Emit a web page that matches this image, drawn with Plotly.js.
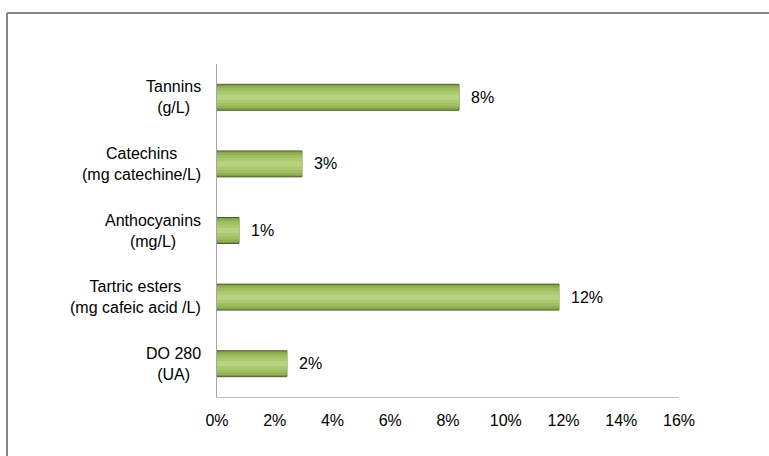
<!DOCTYPE html>
<html>
<head>
<meta charset="utf-8">
<script src="https://cdn.plot.ly/plotly-3.0.1.min.js"></script>
<style>
  html, body { margin: 0; padding: 0; background: #ffffff; }
  #chart { width: 769px; height: 456px; }
</style>
</head>
<body>
<div id="chart"></div>
<script>
// ---- data ----
const categories = [
  "Tannins<br>(g/L)",
  "Catechins<br>(mg catechine/L)",
  "Anthocyanins<br>(mg/L)",
  "Tartric esters<br>(mg cafeic acid /L)",
  "DO 280<br>(UA)"
];
const values = [8.38, 2.94, 0.76, 11.84, 2.42];   // percent
const xTicks = [0, 2, 4, 6, 8, 10, 12, 14, 16];
const xTickLabels = ["0%", "2%", "4%", "6%", "8%", "10%", "12%", "14%", "16%"];

const FONT = "Liberation Sans, Arial, sans-serif";

// bars: layered overlay traces for a bevel/gradient look
function barLayer(width, color, line) {
  return {
    type: "bar", orientation: "h", y: categories, x: values,
    width: width, hoverinfo: "skip",
    marker: { color: color, line: line || { width: 0 } }
  };
}
const traces = [
  barLayer(0.39, "#7F9B47", { color: "#4F6228", width: 1 }),
  barLayer(0.34, "#92B156"),
  barLayer(0.27, "#A0BF62"),
  barLayer(0.18, "#ABC96F"),
  barLayer(0.08, "#B8D37F")
];

const annotations = [];
// category labels (centered multi-line)
categories.forEach((c) => {
  annotations.push({
    xref: "paper", yref: "y", x: 0, y: c, text: c,
    xanchor: "right", yanchor: "middle", xshift: -14,
    align: "center", showarrow: false,
    font: { family: FONT, size: 16, color: "#000000" }
  });
});
// value labels
categories.forEach((c, i) => {
  annotations.push({
    xref: "x", yref: "y", x: values[i], y: c,
    text: Math.round(values[i]) + "%",
    xanchor: "left", yanchor: "middle", xshift: 10,
    showarrow: false,
    font: { family: FONT, size: 16, color: "#000000" }
  });
});

const layout = {
  width: 769, height: 456,
  margin: { l: 217, r: 90, t: 64, b: 59 },
  paper_bgcolor: "#ffffff", plot_bgcolor: "#ffffff",
  showlegend: false,
  barmode: "overlay",
  font: { family: FONT, size: 16, color: "#000000" },
  xaxis: {
    range: [0, 16], tickvals: xTicks, ticktext: xTickLabels,
    showgrid: false, zeroline: false,
    showline: true, linecolor: "#BFBFBF", linewidth: 1,
    ticks: "", ticklabelstandoff: 9,
    tickfont: { family: FONT, size: 16, color: "#000000" },
    fixedrange: true
  },
  yaxis: {
    type: "category", categoryorder: "array", categoryarray: categories,
    autorange: "reversed",
    showgrid: false, zeroline: false,
    showline: true, linecolor: "#A6A6A6", linewidth: 1,
    ticks: "", showticklabels: false,
    fixedrange: true
  },
  annotations: annotations,
  shapes: [
    { type: "line", xref: "paper", yref: "paper",
      x0: (7 - 217) / 462, x1: (7 - 217) / 462,
      y0: -1, y1: 1 + (64 - 13) / 333,
      line: { color: "#868686", width: 2 } },
    { type: "line", xref: "paper", yref: "paper",
      x0: (7 - 217) / 462, x1: 2,
      y0: 1 + (64 - 13) / 333, y1: 1 + (64 - 13) / 333,
      line: { color: "#868686", width: 2 } }
  ]
};

Plotly.newPlot("chart", traces, layout, { displayModeBar: false, staticPlot: true });
</script>
</body>
</html>
